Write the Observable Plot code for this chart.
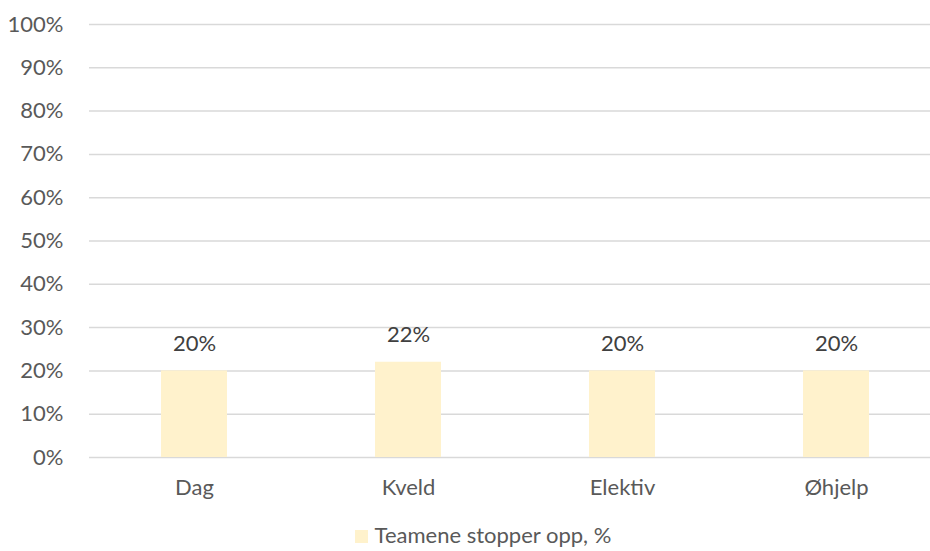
<!DOCTYPE html>
<html>
<head>
<meta charset="utf-8">
<script src="https://cdn.jsdelivr.net/npm/d3@7"></script>
<script src="https://cdn.jsdelivr.net/npm/@observablehq/plot@0.6"></script>
<style>
  html, body { margin: 0; padding: 0; background: #fff; }
  #chart { width: 930px; font-family: Lato, "Open Sans", sans-serif; }
  .legend { display: flex; justify-content: center; align-items: center; height: 34px;
            line-height: 24px; font-size: 22px; color: #595959; margin-left: 36px; }
  .legend .sw { width: 13px; height: 13px; background: #fff2cc; margin-right: 7px; margin-top: 3px; }
</style>
</head>
<body>
<div id="chart"></div>
<script>
const categories = ["Dag", "Kveld", "Elektiv", "Øhjelp"];
const values = [20, 22, 20, 20];
const yTicks = [0, 10, 20, 30, 40, 50, 60, 70, 80, 90, 100];
const seriesName = "Teamene stopper opp, %";

const data = categories.map((c, i) => ({category: c, value: values[i]}));

const plot = Plot.plot({
  width: 930,
  height: 518,
  marginTop: 24,
  marginBottom: 61,
  marginLeft: 89,
  marginRight: 0,
  style: {fontFamily: "Lato, 'Open Sans', sans-serif", fontSize: "22px", color: "#595959", background: "#fff"},
  x: {domain: categories, range: [87, 943], paddingInner: 0.69, paddingOuter: 0.345, label: null},
  y: {domain: [0, 100], label: null},
  marks: [
    Plot.ruleY(yTicks, {stroke: "#d9d9d9", strokeWidth: 1.5}),
    Plot.barY(data, {x: "category", y: "value", fill: "#fff2cc"}),
    Plot.text(data, {x: "category", y: "value", text: d => d.value + "%", dy: -27,
                     fill: "#404040", fontSize: 22}),
    Plot.axisY(yTicks, {tickSize: 0, tickPadding: 26, tickFormat: d => d + "%",
                        fontSize: 22, fill: "#595959"}),
    Plot.axisX({tickSize: 0, tickPadding: 22, fontSize: 22, fill: "#595959"})
  ]
});

document.getElementById("chart").appendChild(plot);

const legend = document.createElement("div");
legend.className = "legend";
legend.innerHTML = `<span class="sw"></span><span>${seriesName}</span>`;
document.getElementById("chart").appendChild(legend);
</script>
</body>
</html>
